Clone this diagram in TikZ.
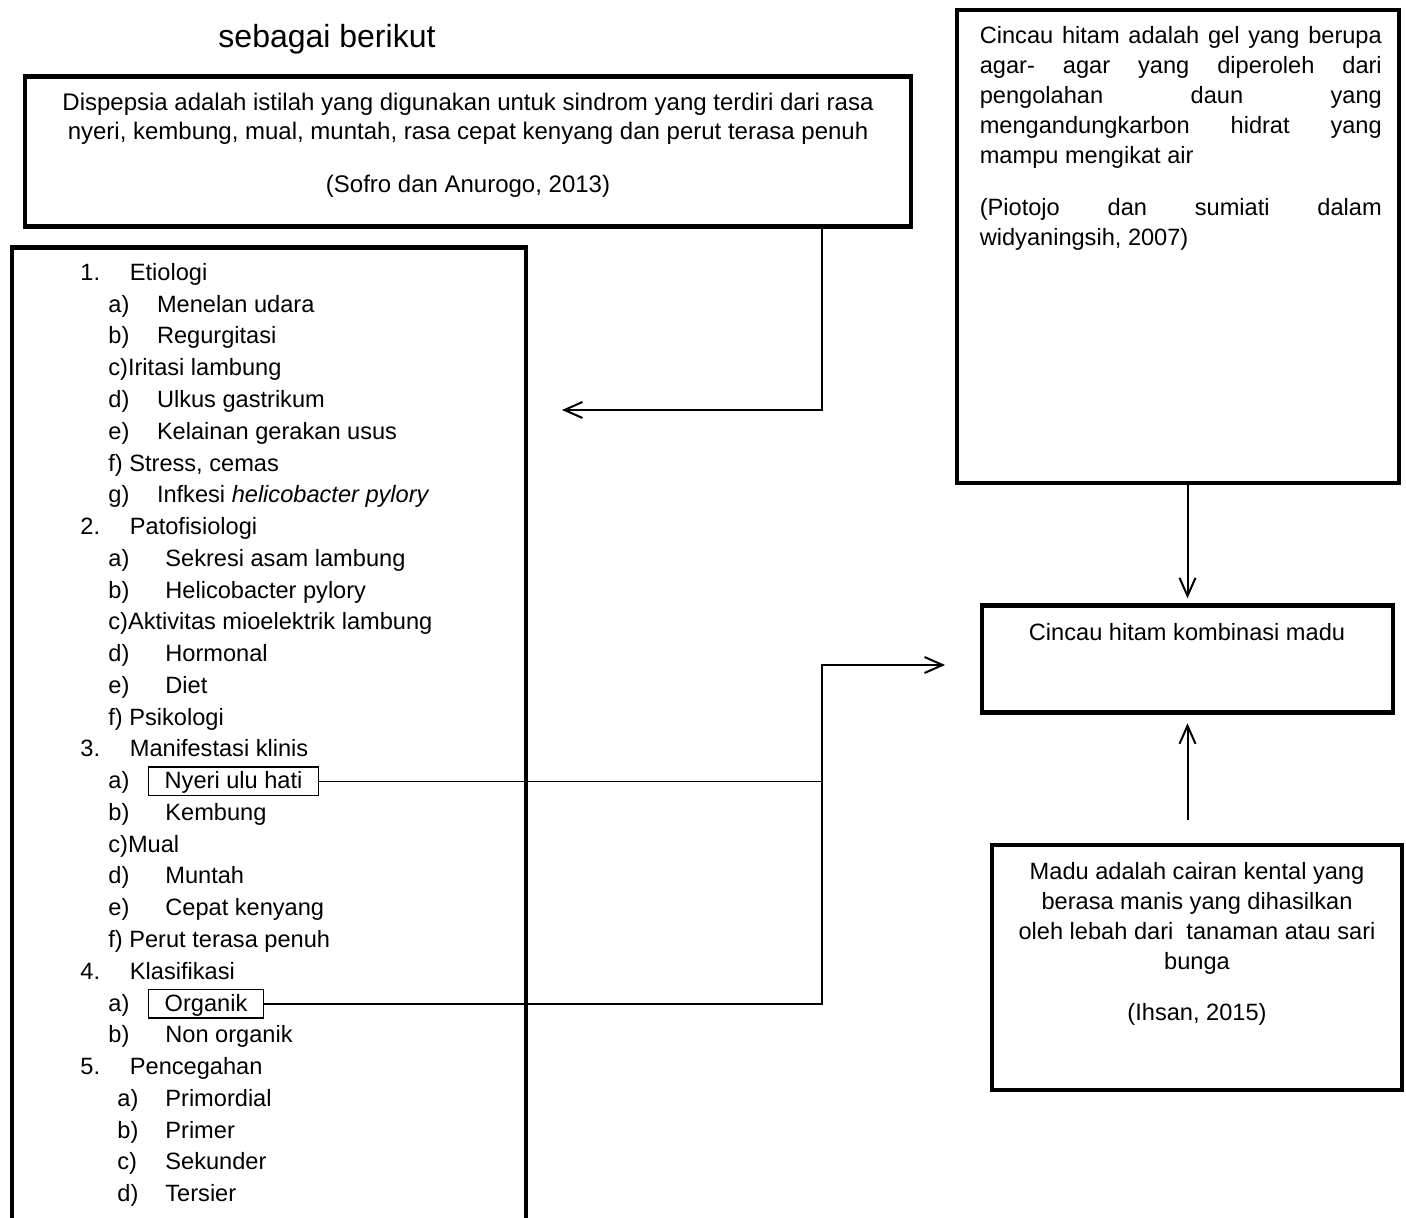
\documentclass[tikz,border=0pt]{standalone}
\usepackage{fontspec}
\setmainfont{Liberation Sans}
\usetikzlibrary{arrows.meta}

\begin{document}
\begin{tikzpicture}[x=0.5pt,y=-0.5pt,
    kotak/.style={draw, line width=2.2pt, inner sep=0pt},
    kotaktipis/.style={draw, line width=0.7pt, anchor=base west, inner xsep=8pt, inner ysep=1.2pt,
        text height=9.6pt, text depth=2.2pt, font=\fontsize{11.8}{14}\selectfont},
    baris/.style={anchor=base west, inner sep=0pt, font=\fontsize{11.8}{14}\selectfont},
    teks/.style={inner sep=0pt, font=\fontsize{11.8}{15}\selectfont},
    panah/.style={line width=1pt, -{Straight Barb[length=9pt,width=8pt]}},
    garis/.style={line width=0.7pt}]
    \clip (0,0) rectangle (1406,1218);

    % judul
    \node[anchor=base, inner sep=0pt, font=\fontsize{16}{19}\selectfont] (judul) at (327,48) {sebagai berikut};

    % kotak-kotak
    \node[kotak, minimum width=443pt, minimum height=75pt] (dispepsia) at (468,151.5) {};
    \node[kotak, minimum width=257pt, minimum height=500pt, anchor=north west] (daftar) at (10,245.5) {};
    \node[kotak, minimum width=221pt, minimum height=236.5pt] (cincau) at (1178,246.5) {};
    \node[kotak, minimum width=205.5pt, minimum height=53.5pt] (kombinasi) at (1187.5,659) {};
    \node[kotak, minimum width=205pt, minimum height=122.5pt] (madu) at (1197,967.5) {};

    % isi kotak
    \node[teks, anchor=north, align=center, font=\fontsize{12}{14.5}\selectfont] (dispepsiateks) at (468,93)
        {Dispepsia adalah istilah yang digunakan untuk sindrom yang terdiri dari rasa\\
         nyeri, kembung, mual, muntah, rasa cepat kenyang dan perut terasa penuh\\[12pt]
         (Sofro dan Anurogo, 2013)};
    \node[teks, anchor=north west, text width=201pt, align=justify] (cincauteks) at (979.4,25.6)
        {\tolerance=10000 \hyphenpenalty=10000 \exhyphenpenalty=10000
         Cincau hitam adalah gel yang berupa\linebreak
         agar- agar yang diperoleh dari\linebreak
         pengolahan daun yang\linebreak
         mengandungkarbon hidrat yang\linebreak
         mampu mengikat air\par\vspace{11pt}
         (Piotojo dan sumiati dalam\linebreak
         widyaningsih, 2007)};
    \node[teks, anchor=base] (kombinasiteks) at (1187,640) {Cincau hitam kombinasi madu};
    \node[teks, anchor=north, align=center] (maduteks) at (1197,862)
        {Madu adalah cairan kental yang\\
         berasa manis yang dihasilkan\\
         oleh lebah dari\ \ tanaman atau sari\\
         bunga\\[10.5pt]
         (Ihsan, 2015)};

    % daftar
    \node[baris] (L0) at (80,280.5) {1.};
    \node[baris] (T0) at (129.5,280.5) {Etiologi};
    \node[baris] (L1) at (108,312.3) {a)};
    \node[baris] (T1) at (156.6,312.3) {Menelan udara};
    \node[baris] (L2) at (108,344) {b)};
    \node[baris] (T2) at (156.6,344) {Regurgitasi};
    \node[baris] (L3) at (108,375.8) {c)Iritasi lambung};
    \node[baris] (L4) at (108,407.5) {d)};
    \node[baris] (T4) at (156.6,407.5) {Ulkus gastrikum};
    \node[baris] (L5) at (108,439.3) {e)};
    \node[baris] (T5) at (156.6,439.3) {Kelainan gerakan usus};
    \node[baris] (L6) at (108,471.1) {f) Stress, cemas};
    \node[baris] (L7) at (108,502.8) {g)};
    \node[baris] (T7) at (156.6,502.8) {Infkesi \textit{helicobacter pylory}};
    \node[baris] (L8) at (80,534.6) {2.};
    \node[baris] (T8) at (129.5,534.6) {Patofisiologi};
    \node[baris] (L9) at (108,566.3) {a)};
    \node[baris] (T9) at (165,566.3) {Sekresi asam lambung};
    \node[baris] (L10) at (108,598.1) {b)};
    \node[baris] (T10) at (165,598.1) {Helicobacter pylory};
    \node[baris] (L11) at (108,629.9) {c)Aktivitas mioelektrik lambung};
    \node[baris] (L12) at (108,661.6) {d)};
    \node[baris] (T12) at (165,661.6) {Hormonal};
    \node[baris] (L13) at (108,693.4) {e)};
    \node[baris] (T13) at (165,693.4) {Diet};
    \node[baris] (L14) at (108,725.1) {f) Psikologi};
    \node[baris] (L15) at (80,756.9) {3.};
    \node[baris] (T15) at (129.5,756.9) {Manifestasi klinis};
    \node[baris] (L16) at (108,788.7) {a)};
    \node[kotaktipis] (nyeri) at (148,788.7) {Nyeri ulu hati};
    \node[baris] (L17) at (108,820.4) {b)};
    \node[baris] (T17) at (165,820.4) {Kembung};
    \node[baris] (L18) at (108,852.2) {c)Mual};
    \node[baris] (L19) at (108,883.9) {d)};
    \node[baris] (T19) at (165,883.9) {Muntah};
    \node[baris] (L20) at (108,915.7) {e)};
    \node[baris] (T20) at (165,915.7) {Cepat kenyang};
    \node[baris] (L21) at (108,947.5) {f) Perut terasa penuh};
    \node[baris] (L22) at (80,979.2) {4.};
    \node[baris] (T22) at (129.5,979.2) {Klasifikasi};
    \node[baris] (L23) at (108,1011) {a)};
    \node[kotaktipis] (organik) at (148,1011) {Organik};
    \node[baris] (L24) at (108,1042.7) {b)};
    \node[baris] (T24) at (165,1042.7) {Non organik};
    \node[baris] (L25) at (80,1074.5) {5.};
    \node[baris] (T25) at (129.5,1074.5) {Pencegahan};
    \node[baris] (L26) at (117,1106.3) {a)};
    \node[baris] (T26) at (165,1106.3) {Primordial};
    \node[baris] (L27) at (117,1138) {b)};
    \node[baris] (T27) at (165,1138) {Primer};
    \node[baris] (L28) at (117,1169.8) {c)};
    \node[baris] (T28) at (165,1169.8) {Sekunder};
    \node[baris] (L29) at (117,1201.5) {d)};
    \node[baris] (T29) at (165,1201.5) {Tersier};

    % penghubung
    \coordinate (sikuA) at (822,410);
    \coordinate (ujungA) at (562,410);
    \coordinate (sikuB) at (822,665);
    \coordinate (ujungB) at (945,665);
    \draw[panah] (dispepsia.south -| sikuA) -- (sikuA) -- (ujungA);
    \draw[garis] (nyeri.east) -- (nyeri.east -| sikuB);
    \draw[panah] (organik.east) -- (organik.east -| sikuB) -- (sikuB) -- (ujungB);
    \draw[panah, shorten >=2.5pt] (cincau.south -| kombinasi.north) -- (kombinasi.north);
    \draw[panah, shorten <=11.3pt, shorten >=4.3pt] (madu.north -| kombinasi.south) -- (kombinasi.south);
\end{tikzpicture}
\end{document}
